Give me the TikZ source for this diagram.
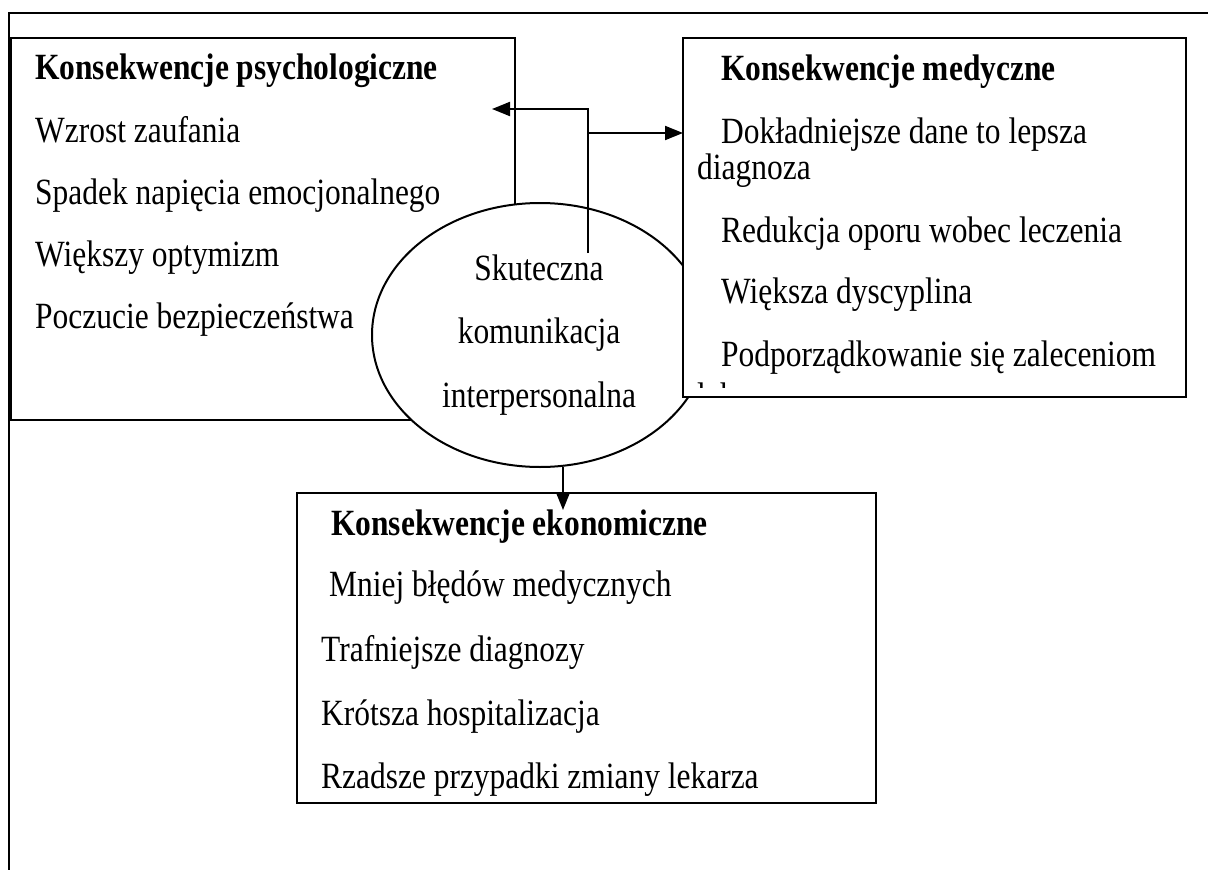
\documentclass[tikz,border=0pt]{standalone}
\usepackage{fontspec}
\setmainfont[FakeStretch=0.85]{Liberation Serif}
\usetikzlibrary{shapes.geometric,arrows.meta,calc}
\begin{document}
\begin{tikzpicture}[x=1pt,y=-1pt,
  frame/.style={line width=2pt},
  box/.style={draw, line width=2pt, fill=white, anchor=north west, inner sep=0pt, outer sep=0pt},
  txt/.style={anchor=base west, inner sep=0pt, font=\fontsize{37}{42}\selectfont},
  head/.style={txt, font=\fontsize{37}{42}\selectfont\bfseries},
  ctxt/.style={anchor=base, inner sep=0pt, font=\fontsize{37}{42}\selectfont},
  arr/.style={line width=2pt, -{Triangle[length=18pt,width=14pt]}}]

\useasboundingbox (0,0) rectangle (1208,870);

% outer frame (top and left edges)
\draw[frame] (1208,12.5) -- (9,12.5) -- (9,870);

% psychological consequences
\node[box, minimum width=504pt, minimum height=382pt] (psych) at (11,38) {};
\node[head] (p0) at (35,79) {Konsekwencje psychologiczne};
\node[txt] (p1) at (35,142) {Wzrost zaufania};
\node[txt] (p2) at (35,204) {Spadek napięcia emocjonalnego};
\node[txt] (p3) at (35,266) {Większy optymizm};
\node[txt] (p4) at (35,328) {Poczucie bezpieczeństwa};

% central ellipse
\node[ellipse, draw, line width=2pt, fill=white, minimum width=336pt, minimum height=264pt, inner sep=0pt] (comm) at (540,335) {};
\node[ctxt] (c1) at (539,280) {Skuteczna};
\node[ctxt] (c2) at (539,343) {komunikacja};
\node[ctxt] (c3) at (539,407) {interpersonalna};

% medical consequences
\node[box, minimum width=503pt, minimum height=359pt] (med) at (683,38) {};
\begin{scope}
  \clip (683,38) rectangle (1186,387);
  \node[head] (m0) at (721,80) {Konsekwencje medyczne};
  \node[txt] (m1) at (721,143) {Dokładniejsze dane to lepsza};
  \node[txt] (m1b) at (697,179) {diagnoza};
  \node[txt] (m2) at (721,242) {Redukcja oporu wobec leczenia};
  \node[txt] (m3) at (721,303) {Większa dyscyplina};
  \node[txt] (m4) at (721,366) {Podporządkowanie się zaleceniom};
  \node[txt] (m4b) at (697,408) {lekarzy};
\end{scope}

% economic consequences
\node[box, minimum width=579pt, minimum height=310pt] (econ) at (297,493) {};
\node[head] (e0) at (331,535) {Konsekwencje ekonomiczne};
\node[txt] (e1) at (329,596) {Mniej błędów medycznych};
\node[txt] (e2) at (321,661) {Trafniejsze diagnozy};
\node[txt] (e3) at (321,725) {Krótsza hospitalizacja};
\node[txt] (e4) at (321,788) {Rzadsze przypadki zmiany lekarza};

% connectors
\coordinate (hub) at (588,253);
\coordinate (ptip) at (492,109);
\coordinate (mfork) at (588,133);
\coordinate (cdown) at (563,467);
\draw[arr] (hub) -- (hub |- ptip) -- (ptip);
\draw[arr] (mfork) -- (mfork -| med.west);
\draw[arr] (cdown) -- ($(cdown |- econ.north)+(0,17)$);
\end{tikzpicture}
\end{document}
